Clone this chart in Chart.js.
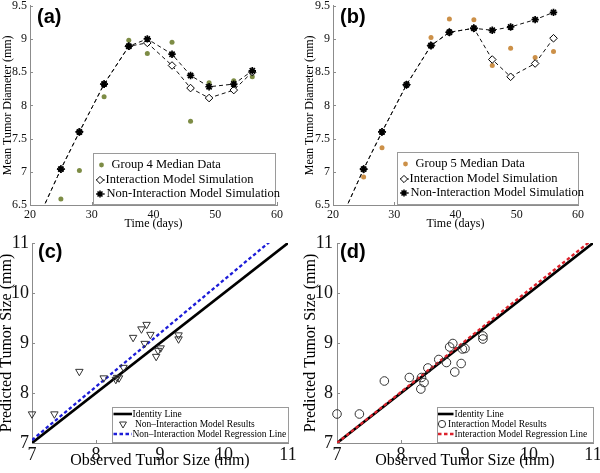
<!DOCTYPE html>
<html><head><meta charset="utf-8">
<script src="https://cdn.jsdelivr.net/npm/chart.js@4.4.1/dist/chart.umd.min.js"></script>
<style>
html,body{margin:0;padding:0;background:#fff;}
#wrap{position:relative;width:600px;height:473px;overflow:hidden;background:#fff;}
.pane{position:absolute;}
.pane canvas{display:block;}
</style></head><body>
<div id="wrap">
  <div class="pane" style="left:0;top:0"><canvas id="ca" width="300" height="232"></canvas></div>
  <div class="pane" style="left:300px;top:0"><canvas id="cb" width="300" height="232"></canvas></div>
  <div class="pane" style="left:0;top:232px"><canvas id="cc" width="300" height="241"></canvas></div>
  <div class="pane" style="left:300px;top:232px"><canvas id="cd" width="300" height="241"></canvas></div>
</div>
<script>
// ---------------- DATA ----------------
const obsDays = [25, 28, 32, 36, 39, 43, 46, 49, 53, 56];
const simDays = [22, 25, 28, 32, 36, 39, 43, 46, 49, 53, 56];

const group4Median         = [6.59, 7.02, 8.13, 8.98, 8.78, 8.95, 7.76, 8.34, 8.37, 8.43];
const group4Interaction    = [6.43, 7.04, 7.60, 8.32, 8.89, 8.94, 8.60, 8.26, 8.11, 8.23, 8.50];
const group4NonInteraction = [6.43, 7.04, 7.60, 8.32, 8.89, 9.00, 8.77, 8.45, 8.28, 8.32, 8.52];

const group5Median         = [6.92, 7.36, 8.32, 9.02, 9.30, 9.29, 8.60, 8.86, 8.72, 8.81];
const group5Interaction    = [6.43, 7.04, 7.60, 8.31, 8.90, 9.10, 9.16, 8.69, 8.43, 8.63, 9.01];
const group5NonInteraction = [6.43, 7.04, 7.60, 8.31, 8.90, 9.10, 9.16, 9.13, 9.18, 9.29, 9.40];

const observedC = [7.00, 7.35, 7.74, 8.12, 8.31, 8.33, 8.36, 8.43, 8.58, 8.71, 8.79, 8.76, 8.85, 8.94, 8.97, 9.01, 9.29, 9.29];
const predictedNonInteraction = [7.58, 7.58, 8.43, 8.30, 8.27, 8.31, 8.30, 8.51, 9.11, 9.28, 9.37, 8.99, 9.17, 8.73, 8.85, 8.90, 9.16, 9.08];

const observedD = [7.00, 7.35, 7.74, 8.13, 8.32, 8.31, 8.36, 8.42, 8.59, 8.71, 8.76, 8.81, 8.84, 8.94, 8.96, 9.00, 9.28, 9.28];
const predictedInteraction = [7.58, 7.58, 8.24, 8.31, 8.31, 8.08, 8.21, 8.50, 8.67, 8.61, 8.92, 8.99, 8.42, 8.59, 8.88, 8.89, 9.14, 9.08];

const identityX = [7, 11];
const identityY = [7, 11];
const regNonInteractionX = [7, 11];
const regNonInteractionY = [7.06, 11.33];
const regInteractionX = [7, 11];
const regInteractionY = [7.00, 11.08];

const timeTicks = [20, 30, 40, 50, 60];
const diameterTicks = [6.5, 7, 7.5, 8, 8.5, 9, 9.5];
const sizeTicks = [7, 8, 9, 10, 11];

// ---------------- STYLE ----------------
const SERIF = "'Liberation Serif','Times New Roman',serif";
const SANS = "'Liberation Sans',Arial,sans-serif";
const AXIS_COLOR = '#8c8c8c';
const GREEN = '#7d8c45';
const ORANGE = '#cc9048';
const BLUE = '#1c1cd8';
const RED = '#dc222c';

function xy(xs, ys) { return xs.map((x, i) => ({x: x, y: ys[i]})); }

function axis(o) {
  return {
    type: 'linear', position: o.pos, min: o.min, max: o.max,
    grid: {display: false, drawTicks: false},
    border: {display: true, color: AXIS_COLOR, width: 1},
    ticks: {color: '#111', font: {family: SERIF, size: o.tickSize}, padding: o.tickPad,
            autoSkip: false, maxRotation: 0, minRotation: 0, callback: v => String(v)},
    afterBuildTicks: s => { s.ticks = o.ticks.map(v => ({value: v})); },
    title: {display: true, text: o.title, color: '#000', font: {family: SERIF, size: o.titleSize}, padding: o.titlePad},
    afterFit: s => {
      if (o.pos === 'bottom') { s.height = o.size; s.paddingLeft = 0; s.paddingRight = 0; }
      else { s.width = o.size; s.paddingTop = 0; s.paddingBottom = 0; }
    }
  };
}

function drawMarker(ctx, m, x, y) {
  ctx.save();
  ctx.setLineDash([]);
  ctx.lineWidth = m.lw; ctx.strokeStyle = m.stroke || '#000'; ctx.fillStyle = m.fill || 'rgba(0,0,0,0)';
  ctx.beginPath();
  const r = m.r;
  if (m.style === 'circle') { ctx.arc(x, y, r, 0, Math.PI * 2); }
  else if (m.style === 'rectRot') { ctx.moveTo(x, y - r); ctx.lineTo(x + r, y); ctx.lineTo(x, y + r); ctx.lineTo(x - r, y); ctx.closePath(); }
  else if (m.style === 'triDown') {
    for (let k = 0; k < 3; k++) { const a = Math.PI + k * 2 * Math.PI / 3; const px = x + Math.sin(a) * r, py = y - Math.cos(a) * r; k ? ctx.lineTo(px, py) : ctx.moveTo(px, py); }
    ctx.closePath();
  }
  else if (m.style === 'star') {
    ctx.moveTo(x, y - r); ctx.lineTo(x, y + r); ctx.moveTo(x - r, y); ctx.lineTo(x + r, y);
    const d = r * Math.SQRT1_2;
    ctx.moveTo(x - d, y - d); ctx.lineTo(x + d, y + d); ctx.moveTo(x - d, y + d); ctx.lineTo(x + d, y - d);
  }
  if (m.style !== 'star' && m.fill) ctx.fill();
  if (m.lw > 0) ctx.stroke();
  ctx.restore();
}

function inTicksPlugin(len) {
  return {
    id: 'inTicks',
    afterDatasetsDraw(chart) {
      const {ctx, chartArea: a, scales} = chart;
      ctx.save(); ctx.strokeStyle = AXIS_COLOR; ctx.lineWidth = 1; ctx.beginPath();
      scales.x.ticks.forEach((t, i) => { if (!i) return; const px = Math.round(scales.x.getPixelForValue(t.value)) + 0.5; ctx.moveTo(px, a.bottom); ctx.lineTo(px, a.bottom - len); });
      scales.y.ticks.forEach((t, i) => { if (!i) return; const py = Math.round(scales.y.getPixelForValue(t.value)) + 0.5; ctx.moveTo(a.left, py); ctx.lineTo(a.left + len, py); });
      ctx.stroke(); ctx.restore();
    }
  };
}

function boxLegendPlugin(cfg) {
  return {
    id: 'boxLegend',
    afterDraw(chart) {
      const {ctx, chartArea: a} = chart;
      const L = Math.round(a.right - cfg.right - cfg.width), T = Math.round(a.bottom - cfg.bottom - cfg.height);
      ctx.save();
      ctx.fillStyle = '#fff'; ctx.fillRect(L, T, cfg.width, cfg.height);
      ctx.strokeStyle = '#9a9a9a'; ctx.lineWidth = 1; ctx.strokeRect(L + 0.5, T + 0.5, cfg.width, cfg.height);
      cfg.items.forEach(it => {
        const ds = chart.data.datasets[it.ds];
        const y = T + it.dy;
        if (it.line) {
          ctx.save(); ctx.beginPath(); ctx.setLineDash(ds.borderDash || []);
          ctx.strokeStyle = ds.borderColor; ctx.lineWidth = ds.borderWidth;
          ctx.moveTo(L + it.line[0], y); ctx.lineTo(L + it.line[1], y); ctx.stroke(); ctx.restore();
        }
        if (it.marker) drawMarker(ctx, it.marker, L + it.marker.x, y);
        ctx.fillStyle = '#000'; ctx.font = cfg.fontSize + 'px ' + SERIF; ctx.textBaseline = 'middle'; ctx.textAlign = 'left';
        ctx.fillText(ds.label, L + it.tx, y);
      });
      ctx.restore();
    }
  };
}

function panelLabelPlugin(text, dx, dy) {
  return {
    id: 'panelLabel',
    afterDraw(chart) {
      const {ctx, chartArea: a} = chart;
      ctx.save(); ctx.fillStyle = '#000'; ctx.font = 'bold 20px ' + SANS; ctx.textBaseline = 'middle'; ctx.textAlign = 'left';
      ctx.fillText(text, a.left + dx, a.top + dy); ctx.restore();
    }
  };
}

const baseOpts = {responsive: false, animation: false, events: [], plugins: {legend: {display: false}, tooltip: {enabled: false}}};

function timeChart(id, pad, yW, medians, inter, nonInter, medColor, medLabel, legendCfg, label, yTitlePad) {
  const simLine = {showLine: true, borderColor: '#111', borderWidth: 1, borderDash: [4, 3], clip: {left: 20, top: 20, right: 20, bottom: 0}};
  new Chart(document.getElementById(id), {
    type: 'scatter',
    data: {datasets: [
      Object.assign({label: 'Non-Interaction Model Simulation', data: xy(simDays, nonInter),
        pointStyle: 'star', pointRadius: c => c.dataIndex === 0 ? 0 : 3.7, pointBorderWidth: 1.7,
        pointBorderColor: '#000', pointBackgroundColor: '#000'}, simLine),
      Object.assign({label: 'Interaction Model Simulation', data: xy(simDays, inter),
        pointStyle: 'rectRot', pointRadius: c => c.dataIndex === 0 ? 0 : 3.8, pointBorderWidth: 1,
        pointBorderColor: '#000', pointBackgroundColor: '#fff'}, simLine),
      {label: medLabel, data: xy(obsDays, medians), showLine: false, pointStyle: 'circle', pointRadius: 2.5,
        pointBorderWidth: 0, pointBackgroundColor: medColor, pointBorderColor: medColor, clip: false}
    ]},
    options: Object.assign({}, baseOpts, {
      layout: {padding: pad},
      scales: {
        x: axis({pos: 'bottom', min: 20, max: 60, ticks: timeTicks, title: 'Time (days)', tickSize: 12, titleSize: 12,
                 tickPad: 2.8, titlePad: {top: 0, bottom: 0.8}, size: 27}),
        y: axis({pos: 'left', min: 6.5, max: 9.5, ticks: diameterTicks, title: 'Mean Tumor Diameter (mm)', tickSize: 12, titleSize: 12,
                 tickPad: 3, titlePad: {top: yTitlePad, bottom: 0}, size: yW})
      }
    }),
    plugins: [inTicksPlugin(3), boxLegendPlugin(legendCfg), panelLabelPlugin(label, 7, 12)]
  });
}

const legendTop = (right) => ({
  right: right, bottom: 1, width: 182, height: 51, fontSize: 12.5,
  items: [
    {ds: 2, dy: 12, tx: 18.5, marker: {style: 'circle', x: 8.5, r: 2.4, fill: null, lw: 0}},
    {ds: 1, dy: 27, tx: 12.5, line: [3, 12], marker: {style: 'rectRot', x: 7, r: 3.6, fill: '#fff', stroke: '#000', lw: 1}},
    {ds: 0, dy: 41, tx: 13.5, line: [3, 12], marker: {style: 'star', x: 7, r: 3.5, stroke: '#000', lw: 1.6}}
  ]
});
const legA = legendTop(2); legA.items[0].marker.fill = GREEN;
const legB = legendTop(0); legB.items[0].marker.fill = ORANGE; legB.width = 181; legB.height = 52;

timeChart('ca', {left: 0, top: 4, right: 23, bottom: 0}, 30, group4Median, group4Interaction, group4NonInteraction,
  GREEN, 'Group 4 Median Data', legA, '(a)', 0.8);
timeChart('cb', {left: 0, top: 4, right: 22, bottom: 0}, 33, group5Median, group5Interaction, group5NonInteraction,
  ORANGE, 'Group 5 Median Data', legB, '(b)', 2.8);

function sizeChart(id, pad, yW, obs, pred, regX, regY, regColor, resLabel, regLabel, markerStyle, legendCfg, label, yTitlePad, yTickPad, labelDx) {
  const isTri = markerStyle === 'triangle';
  new Chart(document.getElementById(id), {
    type: 'scatter',
    data: {datasets: [
      {label: resLabel, data: xy(obs, pred), showLine: false, pointStyle: markerStyle, pointRotation: isTri ? 180 : 0,
        pointRadius: 4.3, pointBorderWidth: 1, pointBorderColor: '#333', pointBackgroundColor: 'rgba(255,255,255,0)', clip: false},
      {label: regLabel, data: xy(regX, regY), showLine: true, borderColor: regColor, borderWidth: 2.3, borderDash: [3.5, 2.5],
        pointRadius: 0, clip: 0},
      {label: 'Identity Line', data: xy(identityX, identityY), showLine: true, borderColor: '#000', borderWidth: 2.6,
        pointRadius: 0, clip: 0}
    ]},
    options: Object.assign({}, baseOpts, {
      layout: {padding: pad},
      scales: {
        x: axis({pos: 'bottom', min: 7, max: 11, ticks: sizeTicks, title: 'Observed Tumor Size (mm)', tickSize: 18, titleSize: 16,
                 tickPad: 1.2, titlePad: {top: 0, bottom: 2.4}, size: 30}),
        y: axis({pos: 'left', min: 7, max: 11, ticks: sizeTicks, title: 'Predicted Tumor Size (mm)', tickSize: 18, titleSize: 16,
                 tickPad: yTickPad, titlePad: {top: yTitlePad, bottom: 0}, size: yW})
      }
    }),
    plugins: [inTicksPlugin(3), boxLegendPlugin(legendCfg), panelLabelPlugin(label, labelDx, 9.5)]
  });
}

const legC = {right: 0, bottom: 1, width: 176, height: 35, fontSize: 9.5, items: [
  {ds: 2, dy: 7, tx: 20.5, line: [1.5, 20]},
  {ds: 0, dy: 17, tx: 23, marker: {style: 'triDown', x: 11, r: 4, fill: null, stroke: '#333', lw: 1}},
  {ds: 1, dy: 27, tx: 20.5, line: [1.5, 20]}
]};
const legD = {right: 0, bottom: 1, width: 156, height: 35, fontSize: 9.5, items: [
  {ds: 2, dy: 7, tx: 17.5, line: [1, 16.5]},
  {ds: 0, dy: 17, tx: 11, marker: {style: 'circle', x: 5, r: 3.6, fill: null, stroke: '#333', lw: 1}},
  {ds: 1, dy: 27, tx: 17.5, line: [1, 16.5]}
]};

sizeChart('cc', {left: 0, top: 11, right: 12, bottom: 0}, 32, observedC, predictedNonInteraction, regNonInteractionX, regNonInteractionY,
  BLUE, 'Non\u2013Interaction Model Results', 'Non\u2013Interaction Model Regression Line', 'triangle', legC, '(c)', -2.6, 3, 6);
sizeChart('cd', {left: 0, top: 11, right: 7, bottom: 0}, 37, observedD, predictedInteraction, regInteractionX, regInteractionY,
  RED, 'Interaction Model Results', 'Interaction Model Regression Line', 'circle', legD, '(d)', 1.4, 4, 3);
</script>
</body></html>
